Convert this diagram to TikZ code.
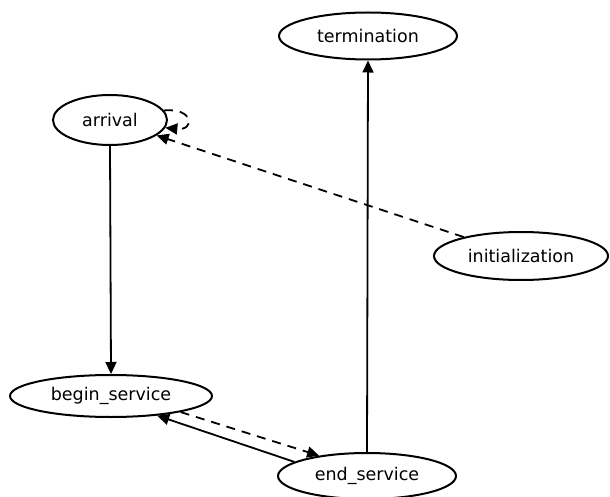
\documentclass[tikz,border=0pt]{standalone}
\usepackage{fontspec}
\setmainfont{DejaVu Sans}
\usetikzlibrary{shapes.geometric,arrows.meta}
\begin{document}
\begin{tikzpicture}[x=1pt,y=-1pt,
  state/.style={ellipse,draw,line width=2pt,inner sep=0pt,font=\fontsize{17.5}{20}\selectfont},
  conn/.style={line width=1.8pt,-{Triangle[length=12pt,width=11pt]}},
  dconn/.style={conn,dash pattern=on 9pt off 7pt}]
\useasboundingbox (0,0) rectangle (610,497);
\node[state,minimum width=178pt,minimum height=47pt] (termination) at (368,36) {termination};
\node[state,minimum width=114pt,minimum height=50pt] (arrival) at (110,120) {arrival};
\node[state,minimum width=174pt,minimum height=48pt] (initialization) at (521,256) {initialization};
\node[state,minimum width=202pt,minimum height=42pt] (begin_service) at (111,396) {begin\_service};
\node[state,minimum width=178pt,minimum height=46pt] (end_service) at (367,476) {end\_service};
\draw[conn] (arrival.south) -- (begin_service.north);
\draw[conn] (end_service.north) -- (termination.south);
\draw[dconn] (initialization) -- (arrival);
\draw[dconn] (arrival.10) .. controls +(30,-3) and +(30,3) .. (arrival.-8);
\draw[dconn] (begin_service.-13) -- (end_service.157);
\draw[conn] (end_service.169) -- (begin_service.-23);
\end{tikzpicture}
\end{document}
